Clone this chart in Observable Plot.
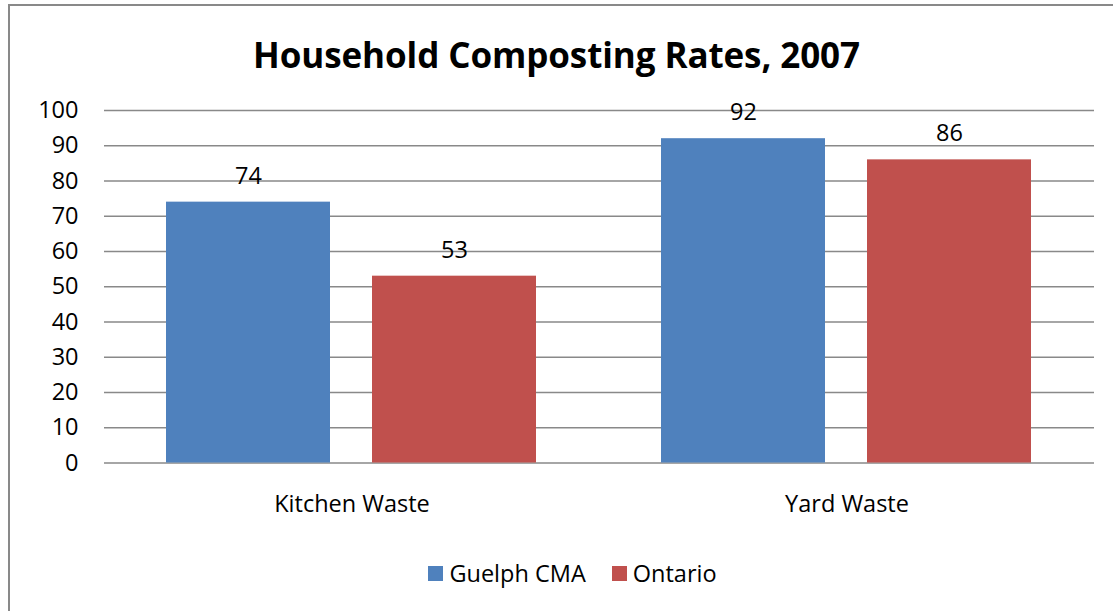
<!DOCTYPE html>
<html>
<head>
<meta charset="utf-8">
<script src="https://cdn.jsdelivr.net/npm/d3@7"></script>
<script src="https://cdn.jsdelivr.net/npm/@observablehq/plot@0.6"></script>
<style>
  html, body { margin: 0; padding: 0; background: #fff; }
  #frame { position: absolute; left: 8px; top: 4px; width: 1200px; height: 700px;
           border-top: 2px solid #898989; border-left: 2px solid #898989; box-sizing: border-box; }
  #wrap { position: relative; width: 1113px; height: 611px; overflow: hidden; font-family: "Open Sans", sans-serif; }
  #title { position: absolute; left: 0; top: 0; width: 1113px; height: 80px; text-align: center;
           font-weight: bold; font-size: 35px; line-height: 110px; color: #000; letter-spacing: -0.1px; }
  #chart { position: absolute; left: 0; top: 80px; }
  #legend { position: absolute; left: 16px; top: 557px; width: 1113px; display: flex; justify-content: center;
            align-items: center; font-size: 23.5px; color: #000; }
  .item { display: flex; align-items: center; margin: 0 13px; }
  .sw { width: 15px; height: 15px; margin-right: 6px; }
</style>
</head>
<body>
<div id="wrap">
  <div id="frame"></div>
  <div id="title">Household Composting Rates, 2007</div>
  <div id="chart"></div>
  <div id="legend"></div>
</div>
<script>
const categories = ["Kitchen Waste", "Yard Waste"];
const series = ["Guelph CMA", "Ontario"];
const guelphValues = [74, 92];
const ontarioValues = [53, 86];
const colors = ["#4F81BD", "#C0504D"];
const yTicks = [0, 10, 20, 30, 40, 50, 60, 70, 80, 90, 100];

const data = [];
categories.forEach((c, i) => {
  data.push({category: c, series: series[0], value: guelphValues[i]});
  data.push({category: c, series: series[1], value: ontarioValues[i]});
});

const FS = 23.5;
const chart = Plot.plot({
  width: 1113,
  height: 460,
  marginTop: 30,
  marginBottom: 77.5,
  marginLeft: 103,
  marginRight: 19,
  style: {fontFamily: "'Open Sans', sans-serif", fontSize: FS + "px", color: "#000", background: "transparent"},
  fx: {domain: categories, padding: 0, label: null},
  x: {domain: series, paddingInner: 0.203, paddingOuter: 0.2995, axis: null},
  y: {domain: [0, 100], axis: null},
  color: {domain: series, range: colors},
  marks: [
    Plot.gridY(yTicks, {stroke: "#898989", strokeOpacity: 1, strokeWidth: 1.3}),
    Plot.axisY(yTicks, {tickSize: 0, tickPadding: 26, fontSize: FS, fill: "#000", label: null}),
    Plot.barY(data, {fx: "category", x: "series", y: "value", fill: "series"}),
    Plot.text(data, {fx: "category", x: "series", y: "value", text: d => String(d.value), dy: -26, fontSize: FS, fill: "#000"}),
    Plot.axisFx({anchor: "bottom", tickSize: 0, tickPadding: 32, fontSize: FS, fill: "#000", label: null})
  ]
});
document.getElementById("chart").appendChild(chart);

const legend = document.getElementById("legend");
series.forEach((s, i) => {
  const item = document.createElement("div");
  item.className = "item";
  const sw = document.createElement("div");
  sw.className = "sw";
  sw.style.background = colors[i];
  const lab = document.createElement("span");
  lab.textContent = s;
  item.appendChild(sw);
  item.appendChild(lab);
  legend.appendChild(item);
});
</script>
</body>
</html>
